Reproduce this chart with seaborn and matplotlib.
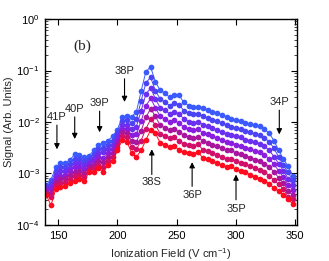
import numpy as np
import pandas as pd
import matplotlib
matplotlib.use("Agg")
import matplotlib.pyplot as plt
import seaborn as sns

field = [140, 144, 148, 152, 156, 160, 164, 168, 172, 176, 180, 184, 188, 192, 196,
         200, 204, 208, 212, 216, 220, 224, 228, 232, 236, 240, 244, 248, 252, 256,
         260, 264, 268, 272, 276, 280, 284, 288, 292, 296, 300, 304, 308, 312, 316,
         320, 324, 328, 332, 336, 340, 344, 348]

# log10 of signal, one list per series (top blue -> bottom red)
s0 = [-3.22, -3.12, -2.88, -2.80, -2.80, -2.74, -2.62, -2.64, -2.68, -2.66, -2.55, -2.45, -2.40, -2.36, -2.28,
      -2.15, -1.90, -1.88, -1.90, -1.80, -1.40, -1.02, -0.93, -1.22, -1.38, -1.44, -1.52, -1.48, -1.48, -1.62,
      -1.68, -1.70, -1.70, -1.72, -1.76, -1.80, -1.82, -1.86, -1.90, -1.94, -1.96, -1.98, -2.02, -2.04, -2.06,
      -2.08, -2.14, -2.22, -2.36, -2.55, -2.72, -2.86, -3.05]
s1 = [-3.25, -3.18, -2.95, -2.88, -2.87, -2.81, -2.71, -2.72, -2.76, -2.71, -2.62, -2.53, -2.50, -2.44, -2.36,
      -2.22, -1.98, -1.96, -2.02, -1.95, -1.59, -1.24, -1.13, -1.39, -1.55, -1.61, -1.68, -1.64, -1.66, -1.78,
      -1.83, -1.85, -1.85, -1.88, -1.92, -1.96, -1.98, -2.02, -2.06, -2.09, -2.12, -2.14, -2.18, -2.20, -2.23,
      -2.25, -2.31, -2.38, -2.51, -2.68, -2.84, -2.98, -3.13]
s2 = [-3.29, -3.24, -3.02, -2.96, -2.95, -2.89, -2.79, -2.79, -2.83, -2.77, -2.69, -2.60, -2.59, -2.52, -2.44,
      -2.28, -2.05, -2.05, -2.13, -2.09, -1.78, -1.46, -1.34, -1.55, -1.72, -1.77, -1.84, -1.81, -1.84, -1.94,
      -1.99, -2.01, -1.99, -2.05, -2.08, -2.12, -2.15, -2.19, -2.23, -2.25, -2.28, -2.30, -2.34, -2.37, -2.39,
      -2.42, -2.47, -2.55, -2.67, -2.81, -2.95, -3.10, -3.22]
s3 = [-3.32, -3.30, -3.09, -3.04, -3.02, -2.96, -2.88, -2.87, -2.91, -2.82, -2.76, -2.68, -2.69, -2.60, -2.52,
      -2.35, -2.13, -2.13, -2.25, -2.24, -1.98, -1.69, -1.54, -1.72, -1.89, -1.94, -2.00, -1.97, -2.02, -2.10,
      -2.14, -2.16, -2.14, -2.21, -2.24, -2.28, -2.31, -2.35, -2.39, -2.40, -2.44, -2.47, -2.50, -2.53, -2.56,
      -2.59, -2.64, -2.71, -2.82, -2.95, -3.07, -3.22, -3.32]
s4 = [-3.35, -3.38, -3.16, -3.11, -3.09, -3.03, -2.97, -2.95, -2.99, -2.87, -2.83, -2.75, -2.78, -2.68, -2.60,
      -2.42, -2.20, -2.21, -2.37, -2.39, -2.17, -1.91, -1.74, -1.89, -2.06, -2.11, -2.16, -2.13, -2.19, -2.26,
      -2.29, -2.31, -2.29, -2.37, -2.40, -2.44, -2.47, -2.51, -2.55, -2.55, -2.60, -2.63, -2.66, -2.69, -2.73,
      -2.76, -2.81, -2.87, -2.97, -3.08, -3.19, -3.34, -3.42]
s5 = [-3.39, -3.45, -3.23, -3.19, -3.17, -3.11, -3.05, -3.02, -3.06, -2.93, -2.90, -2.83, -2.88, -2.76, -2.68,
      -2.48, -2.28, -2.30, -2.48, -2.53, -2.36, -2.13, -1.95, -2.05, -2.23, -2.27, -2.32, -2.30, -2.37, -2.42,
      -2.45, -2.47, -2.43, -2.54, -2.56, -2.60, -2.64, -2.68, -2.72, -2.71, -2.76, -2.79, -2.82, -2.86, -2.89,
      -2.93, -2.97, -3.04, -3.13, -3.21, -3.30, -3.46, -3.50]
s6 = [-3.42, -3.62, -3.30, -3.27, -3.24, -3.18, -3.14, -3.10, -3.14, -2.98, -2.97, -2.90, -2.97, -2.84, -2.76,
      -2.55, -2.35, -2.38, -2.60, -2.68, -2.55, -2.35, -2.15, -2.22, -2.40, -2.44, -2.48, -2.46, -2.55, -2.58,
      -2.60, -2.62, -2.58, -2.70, -2.72, -2.76, -2.80, -2.84, -2.88, -2.86, -2.92, -2.95, -2.98, -3.02, -3.06,
      -3.10, -3.14, -3.20, -3.28, -3.34, -3.42, -3.50, -3.60]

series_logs = [s0, s1, s2, s3, s4, s5, s6]
series_names = ["a", "b", "c", "d", "e", "f", "g"]
colors = ["#3b5bff", "#4a44f5", "#6a2ff0", "#8a1ee0", "#a8169f", "#d0106a", "#ff0a1e"]

labels = ["41P", "40P", "39P", "38P", "38S", "36P", "35P", "34P"]
label_x = [149, 164, 185, 206, 229, 263, 300, 336.5]
label_text_y = [-1.90, -1.75, -1.63, -1.00, -3.17, -3.41, -3.68, -1.61]
arrow_tail_y = [-2.06, -1.90, -1.79, -1.16, -3.02, -3.25, -3.51, -1.77]
arrow_head_y = [-2.53, -2.33, -2.20, -1.61, -2.53, -2.78, -3.02, -2.24]

rows = []
for name, vals in zip(series_names, series_logs):
    for f, v in zip(field, vals):
        rows.append({"field": f, "signal": 10 ** v, "series": name})
df = pd.DataFrame(rows)

sns.set_style("ticks")
plt.rcParams["font.family"] = ["Liberation Sans", "DejaVu Sans"]
plt.rcParams["mathtext.fontset"] = "custom"
plt.rcParams["mathtext.rm"] = "Liberation Sans"
plt.rcParams["mathtext.it"] = "Liberation Sans:italic"

fig = plt.figure(figsize=(3.29, 2.61), dpi=100)
ax = fig.add_axes([0.137, 0.138, 0.766, 0.789])

sns.lineplot(data=df, x="field", y="signal", hue="series", hue_order=series_names,
             palette=colors, marker="o", markersize=4.1, markeredgewidth=0,
             linewidth=0.7, legend=False, sort=False, ax=ax)

ax.set_yscale("log")
ax.set_xlim(139, 351.5)
ax.set_ylim(1e-4, 1e0)
ax.set_xticks([150, 200, 250, 300, 350])
ax.xaxis.set_minor_locator(matplotlib.ticker.NullLocator())
ax.set_yticks([1e-4, 1e-3, 1e-2, 1e-1, 1e0])
ax.set_yticklabels([r"$10^{-4}$", r"$10^{-3}$", r"$10^{-2}$", r"$10^{-1}$", r"$10^{0}$"])
ax.yaxis.set_minor_locator(matplotlib.ticker.LogLocator(base=10, subs=np.arange(2, 10), numticks=20))
ax.yaxis.set_minor_formatter(matplotlib.ticker.NullFormatter())
ax.tick_params(axis="both", which="major", direction="in", length=4, width=0.8,
               top=True, right=True, labelsize=8, pad=4, colors="black")
ax.tick_params(axis="y", which="minor", direction="in", length=2, width=0.6,
               left=True, right=True)
for sp in ax.spines.values():
    sp.set_visible(True)
    sp.set_linewidth(1.0)
    sp.set_color("black")

ax.set_xlabel(r"Ionization Field (V cm$^{-1}$)", fontsize=8, labelpad=4)
ax.set_ylabel("Signal (Arb. Units)", fontsize=8, labelpad=2)

for lab, lx, ty, t0, t1 in zip(labels, label_x, label_text_y, arrow_tail_y, arrow_head_y):
    ax.annotate("", xy=(lx, 10 ** t1), xytext=(lx, 10 ** t0),
                arrowprops=dict(arrowstyle="-|>", color="black", lw=0.8,
                                mutation_scale=8, shrinkA=0, shrinkB=0))
    ax.text(lx, 10 ** ty, lab, ha="center", va="center", fontsize=8)

ax.text(170, 10 ** -0.52, "(b)", ha="center", va="center", fontsize=11,
        family="Liberation Serif")

fig.savefig("out.png", dpi=100)
